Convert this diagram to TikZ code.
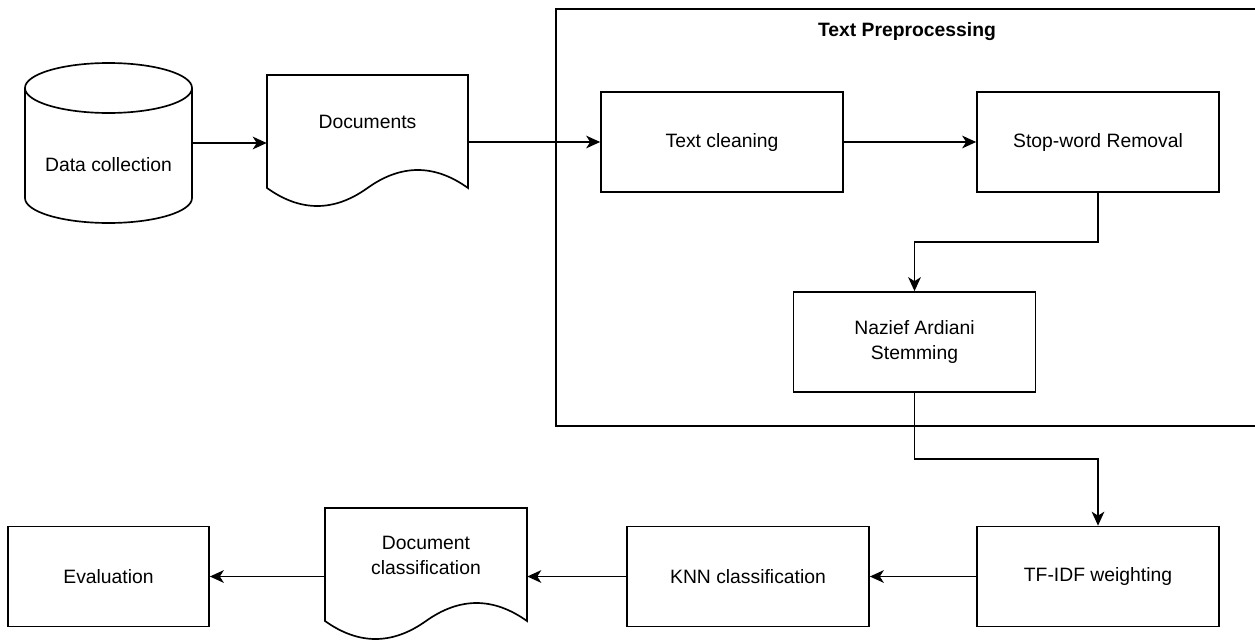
\documentclass[tikz,border=0pt]{standalone}
\usepackage{fontspec}
\setmainfont{Liberation Sans}
\usetikzlibrary{arrows.meta,calc}
\begin{document}
\begin{tikzpicture}[x=0.75pt,y=-0.75pt,
  every node/.style={font=\fontsize{14.5pt}{18.75pt}\selectfont, align=center},
  line/.style={line width=1.25pt, draw=black},
  box/.style={line, rectangle, minimum width=181.5pt, minimum height=75pt, inner sep=0pt},
  ghost/.style={rectangle, inner sep=0pt},
  arr/.style={line width=1.25pt, -{Stealth[length=10.5pt,width=9.5pt,inset=3pt]}}
]
\useasboundingbox (0,0) rectangle (1255,639);
\clip (0,0) rectangle (1255,639);

% container
\draw[line] (1275,9) -- (556,9) -- (556,426) -- (1275,426);
\node[font=\bfseries\fontsize{14.5pt}{18pt}\selectfont] (tp) at (907,32) {Text Preprocessing};

% cylinder
\node[ghost, minimum width=125.25pt, minimum height=120pt] (dc) at (108.5,143) {};
\draw[line] (25,88) -- (25,198) arc[start angle=180, end angle=360, x radius=62.625pt, y radius=18.75pt] -- (192,88);
\draw[line] (108.5,88) ellipse[x radius=62.625pt, y radius=18.75pt];
\node (dcl) at (108.5,165) {Data collection};

% documents
\node[ghost, minimum width=150.75pt, minimum height=84.75pt] (docs) at (367.5,131.5) {};
\draw[line] (267,188) -- (267,75) -- (468,75) -- (468,188)
  .. controls (434.5,164) and (401,164) .. (367.5,188)
  .. controls (334,212) and (300.5,212) .. (267,188) -- cycle;
\node (docsl) at (367.5,122) {Documents};

% preprocessing boxes
\node[box] (tc) at (722,142) {Text cleaning};
\node[box] (sw) at (1098,142) {Stop-word Removal};
\node[box] (stem) at (914.5,342) {Nazief Ardiani\\Stemming};

% bottom row
\node[box] (tf) at (1098,576.5) {TF-IDF weighting};
\node[box] (knn) at (748,576.5) {KNN classification};
\node[ghost, minimum width=151.5pt, minimum height=84.75pt] (dcls) at (426,564.5) {};
\draw[line] (325,621) -- (325,508) -- (527,508) -- (527,621)
  .. controls (493.3,597) and (459.7,597) .. (426,621)
  .. controls (392.3,645) and (358.7,645) .. (325,621) -- cycle;
\node (dclsl) at (426,555.5) {Document\\classification};
\node[box, minimum width=150.75pt] (ev) at (108.5,576.5) {Evaluation};

% connectors
\draw[arr] (dc.east) -- (dc.east -| docs.west);
\draw[arr] (docs.east |- tc.west) -- (tc.west);
\draw[arr] (tc.east) -- (sw.west);
\coordinate (m1) at ($(sw.south)!0.5!(stem.north)$);
\draw[arr] (sw.south) -- (sw.south |- m1) -- (stem.north |- m1) -- (stem.north);
\coordinate (m2) at ($(stem.south)!0.5!(tf.north)$);
\draw[arr] (stem.south) -- (stem.south |- m2) -- (tf.north |- m2) -- (tf.north);
\draw[arr] (tf.west) -- (knn.east);
\draw[arr] (knn.west) -- (knn.west -| dcls.east);
\draw[arr] (knn.west -| dcls.west) -- (ev.east);
\end{tikzpicture}
\end{document}
